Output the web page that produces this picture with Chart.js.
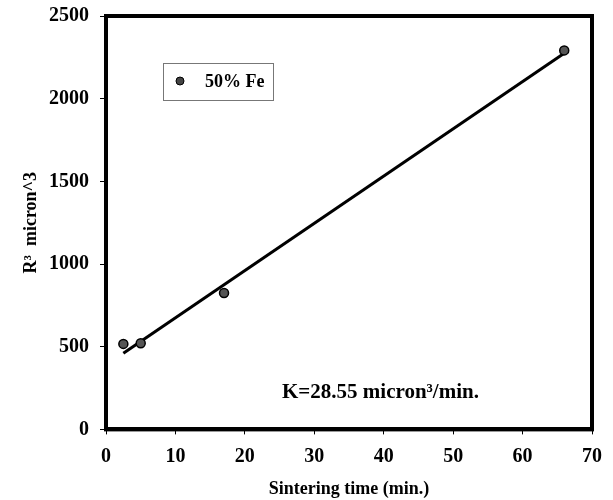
<!DOCTYPE html>
<html>
<head>
<meta charset="utf-8">
<script src="https://cdn.jsdelivr.net/npm/chart.js@4.4.0/dist/chart.umd.min.js"></script>
<style>
  html, body { margin: 0; padding: 0; background: #fff; }
  #wrap { width: 613px; height: 500px; }
</style>
</head>
<body>
<div id="wrap"><canvas id="myChart" width="613" height="500"></canvas></div>
<script>
// measured points
const timeMin = [2.5, 5, 17, 66];
const r3 = [517, 521, 825, 2292];

// fitted line ends
const fitX = [2.5, 66];
const fitY = [460, 2275];

const seriesName = '50% Fe';
const kText = 'K=28.55 micron³/min.';

const FONT = "'Liberation Serif', 'Times New Roman', serif";

const ptData = timeMin.map((x, i) => ({ x: x, y: r3[i] }));
const lineData = fitX.map((x, i) => ({ x: x, y: fitY[i] }));

// frame, legend box and K label
const extras = {
    id: 'extras',
    afterDraw(chart) {
        const ctx = chart.ctx;
        const a = chart.chartArea;
        ctx.save();
        ctx.strokeStyle = '#000';
        ctx.lineWidth = 4;
        ctx.strokeRect(a.left, a.top, a.right - a.left, a.bottom - a.top);

        // legend
        const bx = 163, by = 63, bw = 110, bh = 37;
        ctx.lineWidth = 1;
        ctx.strokeStyle = '#777';
        ctx.strokeRect(bx + 0.5, by + 0.5, bw, bh);
        ctx.beginPath();
        ctx.arc(bx + 17, by + 18, 4, 0, Math.PI * 2);
        ctx.fillStyle = '#444';
        ctx.fill();
        ctx.strokeStyle = '#000';
        ctx.stroke();
        ctx.fillStyle = '#000';
        ctx.font = 'bold 18px ' + FONT;
        ctx.textBaseline = 'middle';
        ctx.fillText(seriesName, bx + 42, by + 19);

        ctx.font = 'bold 21px ' + FONT;
        ctx.fillText(kText, 282, 393);
        ctx.restore();
    }
};

const config = {
    type: 'scatter',
    data: {
        datasets: [{
            label: seriesName,
            data: ptData,
            backgroundColor: '#555',
            borderColor: '#000',
            borderWidth: 1.5,
            pointRadius: 4.5
        }, {
            label: 'fit',
            data: lineData,
            showLine: true,
            borderColor: '#000',
            borderWidth: 3,
            pointRadius: 0
        }]
    },
    options: {
        responsive: false,
        animation: false,
        layout: { autoPadding: false, padding: { top: 16, right: 21, left: 0, bottom: 0 } },
        plugins: {
            legend: { display: false },
            tooltip: { enabled: false }
        },
        scales: {
            x: {
                type: 'linear',
                min: 0,
                max: 70,
                ticks: {
                    stepSize: 10,
                    color: '#000',
                    font: { family: FONT, size: 20, weight: 'bold' },
                    padding: 10,
                    callback: v => String(v)
                },
                grid: { drawOnChartArea: false, color: '#000', tickLength: 5 },
                border: { color: '#000', width: 4 },
                title: {
                    display: true,
                    text: 'Sintering time (min.)',
                    color: '#000',
                    font: { family: FONT, size: 18, weight: 'bold' },
                    padding: { top: 0, bottom: 0 }
                }
            },
            y: {
                min: 0,
                max: 2500,
                afterFit: s => { s.width = 106; s.paddingTop = 0; },
                ticks: {
                    stepSize: 500,
                    color: '#000',
                    font: { family: FONT, size: 20, weight: 'bold' },
                    padding: 11,
                    callback: v => String(v)
                },
                grid: { drawOnChartArea: false, color: '#000', tickLength: 6 },
                border: { color: '#000', width: 4 },
                title: {
                    display: true,
                    text: 'R³  micron^3',
                    color: '#000',
                    font: { family: FONT, size: 18, weight: 'bold' },
                    padding: { top: 21, bottom: 0 }
                }
            }
        }
    },
    plugins: [extras]
};

const myChart = new Chart(document.getElementById('myChart'), config);
</script>
</body>
</html>
